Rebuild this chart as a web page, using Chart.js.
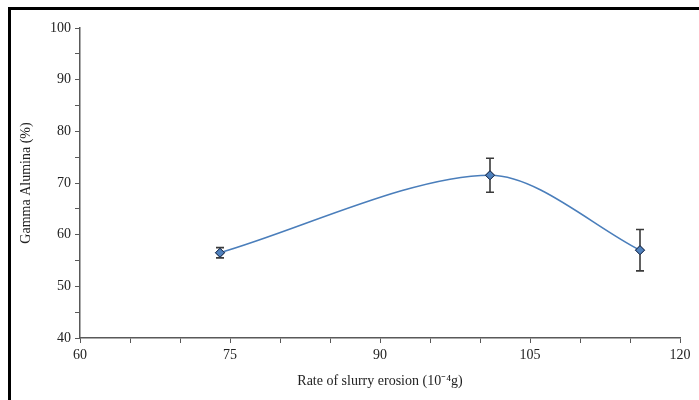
<!DOCTYPE html>
<html>
<head>
<meta charset="utf-8">
<script src="https://cdn.jsdelivr.net/npm/chart.js@4.4.1/dist/chart.umd.min.js"></script>
<style>
  html, body { margin: 0; padding: 0; background: #fff; }
  #wrap { position: relative; width: 699px; height: 400px; }
  #frame { position: absolute; left: 8px; top: 7px; right: 0; bottom: 0;
           border-top: 3px solid #000; border-left: 3px solid #000; pointer-events: none; }
  canvas { position: absolute; left: 0; top: 0; }
</style>
</head>
<body>
<div id="wrap">
  <canvas id="chart" width="699" height="400"></canvas>
  <div id="frame"></div>
</div>
<script>
// erosion rate (10^-4 g) vs gamma alumina content
var erosionRate = [74, 101, 116];
var gammaAlumina = [56.5, 71.5, 57];
var gammaError = [1.0, 3.3, 4.0];

var xTicks = [60, 75, 90, 105, 120];
var yTicks = [40, 50, 60, 70, 80, 90, 100];

var points = erosionRate.map(function (x, i) {
    return { x: x, y: gammaAlumina[i] };
});

// error bars drawn through the chart scales
var errorBars = {
    id: 'errorBars',
    afterDatasetsDraw: function (chart) {
        var ctx = chart.ctx;
        var xs = chart.scales.x, ys = chart.scales.y;
        ctx.save();
        ctx.strokeStyle = '#3a3a3a';
        ctx.lineWidth = 1.6;
        for (var i = 0; i < erosionRate.length; i++) {
            var px = xs.getPixelForValue(erosionRate[i]);
            var top = ys.getPixelForValue(gammaAlumina[i] + gammaError[i]);
            var bot = ys.getPixelForValue(gammaAlumina[i] - gammaError[i]);
            ctx.beginPath();
            ctx.moveTo(px, top); ctx.lineTo(px, bot);
            ctx.moveTo(px - 4, top); ctx.lineTo(px + 4, top);
            ctx.moveTo(px - 4, bot); ctx.lineTo(px + 4, bot);
            ctx.stroke();
        }
        ctx.restore();
        // redraw markers above the bars
        chart.getDatasetMeta(0).data.forEach(function (pt) { pt.draw(ctx, chart.chartArea); });
    }
};

var font = { family: '"Liberation Serif", "Times New Roman", serif', size: 14 };

new Chart(document.getElementById('chart'), {
    type: 'line',
    data: {
        datasets: [{
            data: points,
            borderColor: '#4a7ebb',
            borderWidth: 1.6,
            tension: 0.3,
            pointStyle: 'rectRot',
            pointRadius: 4.5,
            pointBackgroundColor: '#4f81bd',
            pointBorderColor: '#1f2f4f',
            pointBorderWidth: 1,
            fill: false
        }]
    },
    options: {
        responsive: false,
        animation: false,
        events: [],
        layout: { padding: { left: 14, right: 19, top: 28, bottom: 8 } },
        plugins: { legend: { display: false }, tooltip: { enabled: false } },
        scales: {
            x: {
                type: 'linear',
                min: xTicks[0], max: xTicks[xTicks.length - 1],
                afterFit: function (s) { s.height = 54; },
                border: { color: '#595959', width: 1.5 },
                grid: { drawOnChartArea: false, drawTicks: true, tickLength: 5, color: '#595959', lineWidth: 1 },
                ticks: {
                    stepSize: 5, autoSkip: false, maxRotation: 0, padding: 4,
                    color: '#222', font: font,
                    callback: function (v) { return xTicks.indexOf(v) >= 0 ? String(v) : ''; }
                },
                title: { display: true, text: 'Rate of slurry erosion (10\u207B\u2074g)', color: '#222', font: font, padding: { top: 6, bottom: 2 } }
            },
            y: {
                min: yTicks[0], max: yTicks[yTicks.length - 1],
                afterFit: function (s) { s.width = 66; },
                border: { color: '#595959', width: 1.5 },
                grid: { drawOnChartArea: false, drawTicks: true, tickLength: 5, color: '#595959', lineWidth: 1 },
                ticks: {
                    stepSize: 5, autoSkip: false, padding: 4,
                    color: '#222', font: font,
                    callback: function (v) { return yTicks.indexOf(v) >= 0 ? String(v) : ''; }
                },
                title: { display: true, text: 'Gamma Alumina (%)', color: '#222', font: font, padding: { top: 4, bottom: 4 } }
            }
        }
    },
    plugins: [errorBars]
});
</script>
</body>
</html>
